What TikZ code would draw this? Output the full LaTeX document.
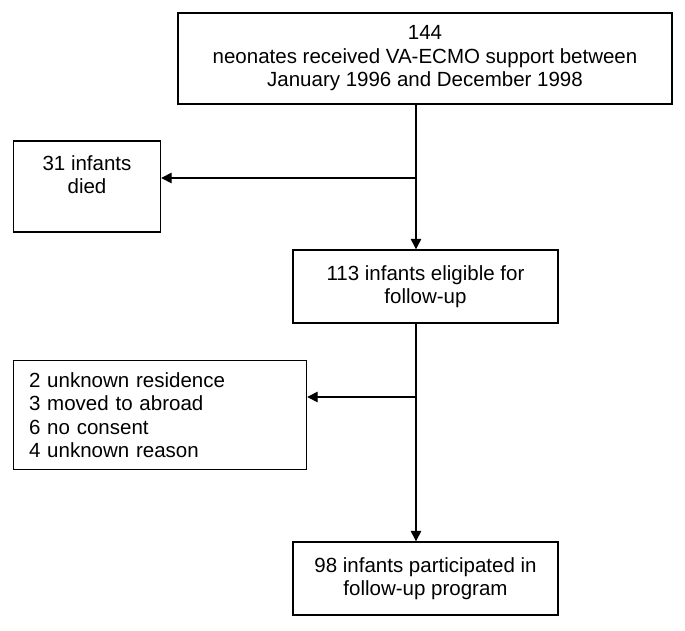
\documentclass[tikz,border=0pt]{standalone}
\usepackage{fontspec}
\setmainfont{Liberation Sans}
\usetikzlibrary{arrows.meta}
\begin{document}
\begin{tikzpicture}[x=1pt,y=-1pt,
  box/.style={draw, line width=1.4pt, inner sep=0pt, font=\fontsize{20.5}{23.5}\selectfont, align=center},
  conn/.style={line width=1.4pt, -{Triangle[length=10.5pt,width=10.5pt]}}]
\useasboundingbox (0,0) rectangle (685,631);
\node[box, minimum width=494pt, minimum height=91pt] (top) at (425,58.5)
  {144\\neonates received VA-ECMO support between\\January 1996 and December 1998};
\node[box, minimum width=147pt, minimum height=91pt] (died) at (87,186.5)
  {31 infants\\died\\\mbox{}};
\node[box, minimum width=265pt, minimum height=73pt] (elig) at (425.5,286.5)
  {113 infants eligible for\\follow-up};
\node[box, minimum width=293pt, minimum height=109pt, align=left, text width=262pt, inner xsep=15.5pt] (lost) at (160,415)
  {2 unknown residence\\3 moved to abroad\\6 no consent\\4 unknown reason};
\node[box, minimum width=265pt, minimum height=73pt] (part) at (425.5,578.5)
  {98 infants participated in\\follow-up program};
\coordinate (j1) at (416,178);
\coordinate (j2) at (416,397);
\draw[conn] (j1 |- top.south) -- (j1 |- elig.north);
\draw[conn] (j1) -- (died.east |- j1);
\draw[conn] (j2 |- elig.south) -- (j2 |- part.north);
\draw[conn] (j2) -- (lost.east |- j2);
\end{tikzpicture}
\end{document}
